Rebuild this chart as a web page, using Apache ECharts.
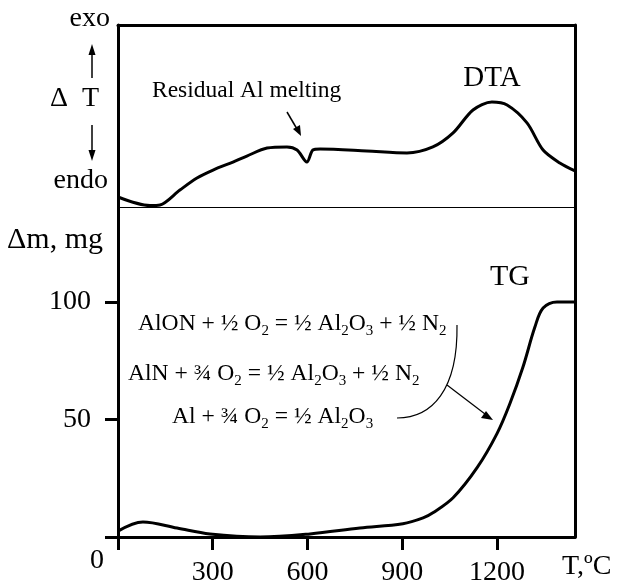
<!DOCTYPE html>
<html>
<head>
<meta charset="utf-8">
<script src="https://cdn.jsdelivr.net/npm/echarts@6/dist/echarts.min.js"></script>
<style>html,body{margin:0;padding:0;background:#fff}#c{width:619px;height:586px}</style>
</head>
<body>
<div id="c"></div>
<script>
// ---- data ----
const tempMax = 1447;
// DTA curve (arbitrary ΔT units, 0..100 over panel height)
const dtaTemps  = [0, 101, 133, 196, 250, 301, 364, 408, 472, 535, 567, 598, 617, 640, 788, 915, 997, 1061, 1124, 1184, 1232, 1295, 1346, 1399, 1447];
const dtaValues = [5.5, 0.8, 1.1, 9.3, 15.9, 20.3, 24.7, 28, 32.4, 33, 31.3, 24.7, 31.3, 31.9, 30.8, 29.7, 33, 40.7, 53.3, 57.7, 56, 46.2, 31.3, 24.2, 19.8];
// TG curve (Δm, mg)
const tgTemps  = [0, 79, 187, 291, 450, 608, 766, 902, 966, 997, 1061, 1137, 1200, 1241, 1282, 1320, 1346, 1390, 1447];
const tgValues = [2.5, 6.4, 3.8, 1.3, 0, 1.3, 3.8, 5.6, 8.1, 10.3, 16.7, 29.5, 44, 56.8, 72.2, 89.3, 97.4, 100, 100];
const xTicks = [0, 300, 600, 900, 1200];
const xLabels = [300, 600, 900, 1200];
const yTicks = [0, 50, 100];
const yLabels = [50, 100];
const tgMax = 140.4;

const FF = '"Liberation Serif","Times New Roman",serif';
const K = '#000';
const pair = (xs, ys) => xs.map((x, i) => [x, ys[i]]);

const chart = echarts.init(document.getElementById('c'), null, {renderer: 'canvas'});
const bare = {show: false};
const frameLine = w => ({show: true, onZero: false, lineStyle: {color: K, width: w}});

const eqRich = {
  m: {fontSize: 23.6, fontFamily: FF, color: K, lineHeight: 24, verticalAlign: 'top'},
  s: {fontSize: 15, fontFamily: FF, color: K, lineHeight: 15, padding: [11.5, 0, 0, 0], verticalAlign: 'top'}
};

chart.setOption({
  animation: false,
  backgroundColor: '#fff',
  grid: [
    {left: 118, top: 25, width: 457, height: 182, outerBoundsMode: 'none', containLabel: false},
    {left: 118, top: 207, width: 457, height: 330, outerBoundsMode: 'none', containLabel: false}
  ],
  xAxis: [
    {type: 'value', gridIndex: 0, position: 'top', min: 0, max: tempMax, axisLine: frameLine(3), axisTick: bare, axisLabel: bare, splitLine: bare},
    {type: 'value', gridIndex: 0, position: 'bottom', min: 0, max: tempMax, axisLine: frameLine(1), axisTick: bare, axisLabel: bare, splitLine: bare},
    {type: 'value', gridIndex: 1, position: 'bottom', min: 0, max: tempMax, interval: 300,
      axisLine: frameLine(3),
      axisTick: {show: true, length: 13, customValues: xTicks, lineStyle: {color: K, width: 3}},
      axisLabel: {show: true, customValues: xLabels, margin: 22, color: K, fontSize: 28, fontFamily: FF, formatter: v => String(v)},
      splitLine: bare}
  ],
  yAxis: [
    {type: 'value', gridIndex: 0, position: 'left', min: 0, max: 100, axisLine: frameLine(3), axisTick: bare, axisLabel: bare, splitLine: bare},
    {type: 'value', gridIndex: 0, position: 'right', min: 0, max: 100, axisLine: frameLine(3), axisTick: bare, axisLabel: bare, splitLine: bare},
    {type: 'value', gridIndex: 1, position: 'left', min: 0, max: tgMax, interval: 50,
      axisLine: frameLine(3),
      axisTick: {show: true, length: 13, customValues: yTicks, lineStyle: {color: K, width: 3}},
      axisLabel: {show: true, customValues: yLabels, margin: 27, color: K, fontSize: 28, fontFamily: FF, formatter: v => String(v)},
      splitLine: bare},
    {type: 'value', gridIndex: 1, position: 'right', min: 0, max: tgMax, axisLine: frameLine(3), axisTick: bare, axisLabel: bare, splitLine: bare}
  ],
  series: [
    {name: 'DTA', type: 'line', xAxisIndex: 0, yAxisIndex: 0, data: pair(dtaTemps, dtaValues),
      smooth: 0.3, showSymbol: false, lineStyle: {color: K, width: 3}},
    {name: 'TG', type: 'line', xAxisIndex: 2, yAxisIndex: 2, data: pair(tgTemps, tgValues),
      smooth: 0.35, showSymbol: false, lineStyle: {color: K, width: 3}}
  ],
  graphic: [
    {type: 'text', x: 110, y: 19, style: {text: 'exo', font: '28px ' + FF, fill: K, align: 'right', verticalAlign: 'middle'}},
    {type: 'text', x: 50, y: 99, style: {text: 'Δ  T', font: '28px ' + FF, fill: K, align: 'left', verticalAlign: 'middle'}},
    {type: 'text', x: 108, y: 181, style: {text: 'endo', font: '28px ' + FF, fill: K, align: 'right', verticalAlign: 'middle'}},
    {type: 'line', shape: {x1: 92, y1: 78, x2: 92, y2: 52}, style: {stroke: K, lineWidth: 1.5}},
    {type: 'polygon', shape: {points: [[92, 44], [88.5, 55], [95.5, 55]]}, style: {fill: K}},
    {type: 'line', shape: {x1: 92, y1: 125, x2: 92, y2: 152}, style: {stroke: K, lineWidth: 1.5}},
    {type: 'polygon', shape: {points: [[92, 161], [88.5, 150], [95.5, 150]]}, style: {fill: K}},
    {type: 'text', x: 492, y: 78, style: {text: 'DTA', font: '29px ' + FF, fill: K, align: 'center', verticalAlign: 'middle'}},
    {type: 'text', x: 152, y: 91, style: {text: 'Residual Al melting', font: '23.5px ' + FF, fill: K, align: 'left', verticalAlign: 'middle'}},
    {type: 'line', shape: {x1: 287, y1: 112, x2: 297, y2: 129}, style: {stroke: K, lineWidth: 1.5}},
    {type: 'polygon', shape: {points: [[301, 136], [293, 129], [300, 125]]}, style: {fill: K}},
    {type: 'text', x: 7, y: 240, style: {text: 'Δm, mg', font: '30px ' + FF, fill: K, align: 'left', verticalAlign: 'middle'}},
    {type: 'text', x: 510, y: 277, style: {text: 'TG', font: '30px ' + FF, fill: K, align: 'center', verticalAlign: 'middle'}},
    {type: 'text', x: 138, y: 312, style: {text: '{m|AlON + ½ O}{s|2}{m| = ½ Al}{s|2}{m|O}{s|3}{m| + ½ N}{s|2}', rich: eqRich, align: 'left', verticalAlign: 'top'}},
    {type: 'text', x: 128, y: 362, style: {text: '{m|AlN + ¾ O}{s|2}{m| = ½ Al}{s|2}{m|O}{s|3}{m| + ½ N}{s|2}', rich: eqRich, align: 'left', verticalAlign: 'top'}},
    {type: 'text', x: 172, y: 405, style: {text: '{m|Al + ¾ O}{s|2}{m| = ½ Al}{s|2}{m|O}{s|3}', rich: eqRich, align: 'left', verticalAlign: 'top'}},
    {type: 'bezierCurve', shape: {x1: 457, y1: 325, cpx1: 458, cpy1: 390, cpx2: 432, cpy2: 418, x2: 397, y2: 418}, style: {stroke: K, lineWidth: 1.2, fill: null}},
    {type: 'line', shape: {x1: 447, y1: 385, x2: 485, y2: 414}, style: {stroke: K, lineWidth: 1.2}},
    {type: 'polygon', shape: {points: [[493, 420], [481, 418], [486, 411]]}, style: {fill: K}},
    {type: 'text', x: 97, y: 561, style: {text: '0', font: '28px ' + FF, fill: K, align: 'center', verticalAlign: 'middle'}},
    {type: 'text', x: 562, y: 567, style: {text: 'T,ºC', font: '28px ' + FF, fill: K, align: 'left', verticalAlign: 'middle'}}
  ]
});
</script>
</body>
</html>
